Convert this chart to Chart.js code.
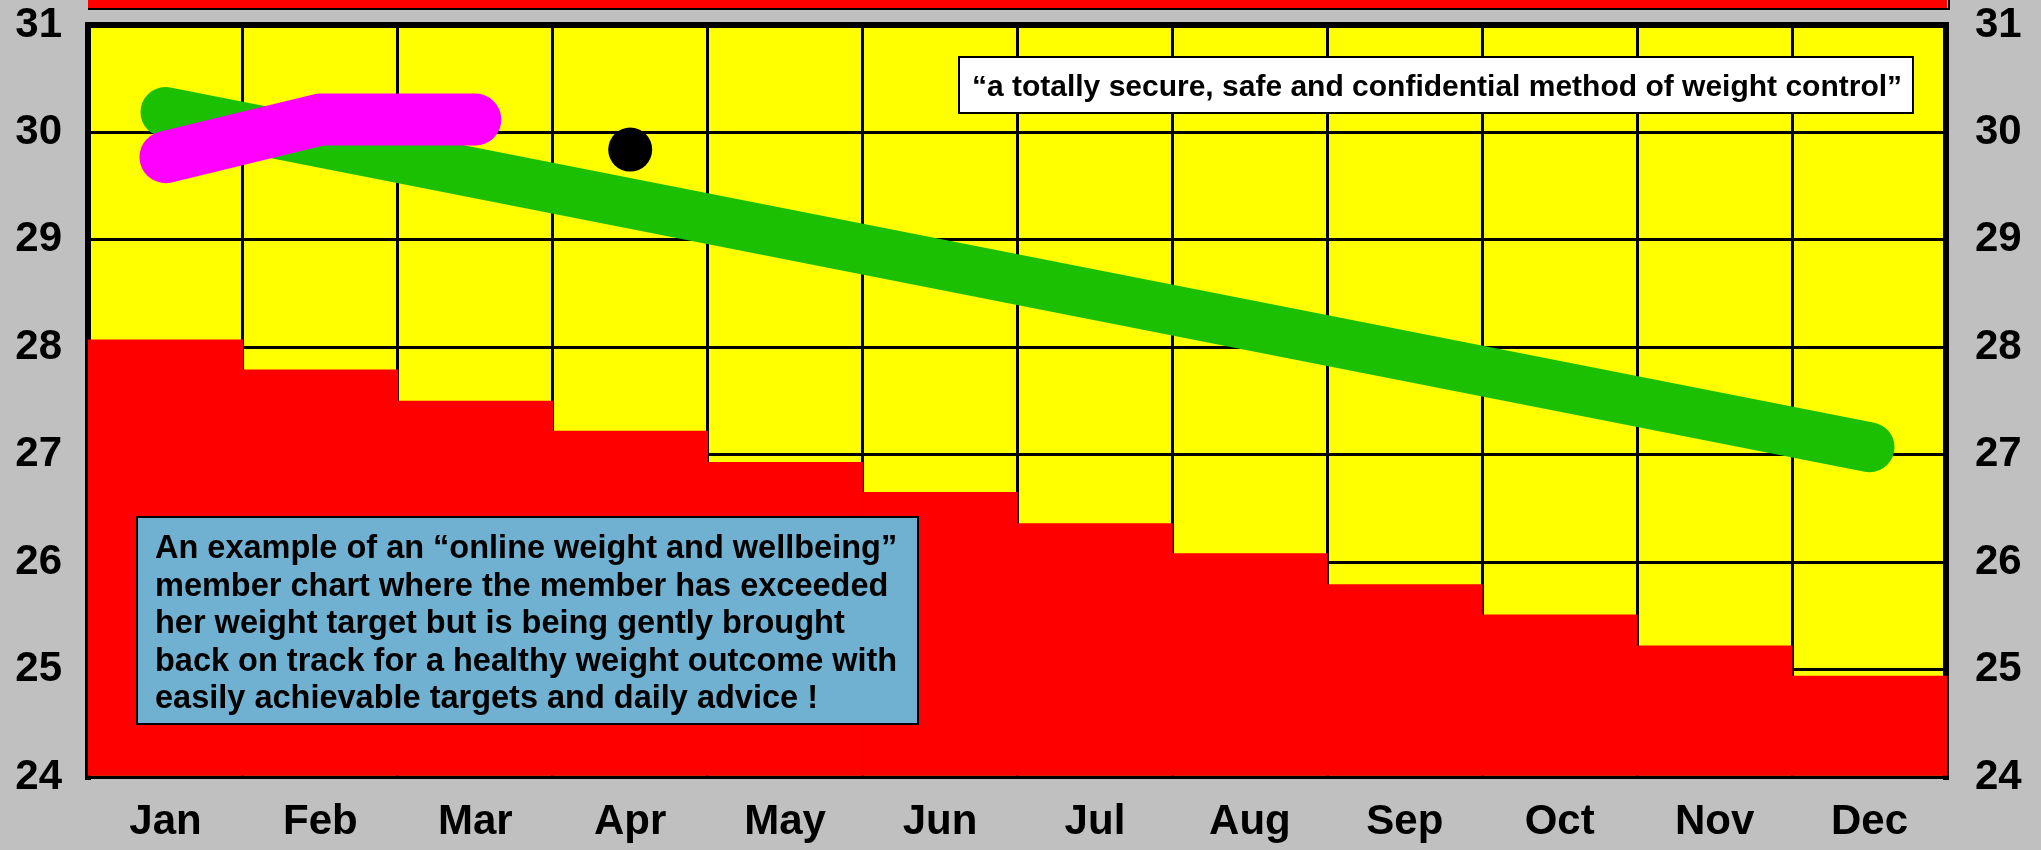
<!DOCTYPE html>
<html>
<head>
<meta charset="utf-8">
<script src="https://cdn.jsdelivr.net/npm/chart.js@4.4.1/dist/chart.umd.min.js"></script>
<style>
    html, body { margin: 0; padding: 0; background: #c0c0c0; }
    #wrap { width: 2041px; height: 850px; }
</style>
</head>
<body>
<div id="wrap"><canvas id="weightChart" width="2041" height="850"></canvas></div>
<script>
// -------- DATA --------
const months = ["Jan", "Feb", "Mar", "Apr", "May", "Jun", "Jul", "Aug", "Sep", "Oct", "Nov", "Dec"];
const yMin = 24;
const yMax = 31;

// red stepped target band (one block per month)
const targetSteps = [28.07, 27.79, 27.50, 27.22, 26.93, 26.65, 26.36, 26.08, 25.79, 25.51, 25.22, 24.94];
// green trend line, only its two end points
const trendLine = [30.19, null, null, null, null, null, null, null, null, null, null, 27.07];
// magenta member weights
const memberWeights = [29.77, 30.12, 30.12, null, null, null, null, null, null, null, null, null];
// black dot, latest weigh-in
const latestWeight = [null, null, null, 29.84, null, null, null, null, null, null, null, null];

const quoteText = "\u201ca totally secure, safe and confidential method of weight control\u201d";
const noteLines = [
    "An example of an \u201conline weight and wellbeing\u201d",
    "member chart where the member has exceeded",
    "her weight target but is being gently brought",
    "back on track for a healthy weight outcome with",
    "easily achievable targets and daily advice !"
];

const FONT = "'Liberation Sans', Arial, sans-serif";

// -------- PLUGIN: background, frame, notes --------
const chartDecor = {
    id: "chartDecor",
    beforeDraw(chart) {
        const { ctx, chartArea: a } = chart;
        ctx.save();
        ctx.fillStyle = "#ffff00";
        ctx.fillRect(a.left, a.top, a.right - a.left, a.bottom - a.top);

        // clipped red banner at the very top
        ctx.fillStyle = "#ff0000";
        ctx.fillRect(a.left, -4, a.right - a.left, 12);
        ctx.strokeStyle = "#000";
        ctx.lineWidth = 2;
        ctx.beginPath();
        ctx.moveTo(a.left, 9);
        ctx.lineTo(a.right + 2, 9);
        ctx.lineTo(a.right + 2, -2);
        ctx.stroke();
        ctx.restore();
    },
    beforeDatasetsDraw(chart) {
        const { ctx, chartArea: a } = chart;
        ctx.save();
        ctx.strokeStyle = "#000";
        ctx.lineCap = "square";
        ctx.lineWidth = 6;
        ctx.beginPath();
        ctx.moveTo(a.left, a.bottom);
        ctx.lineTo(a.left, a.top);
        ctx.lineTo(a.right - 1, a.top);
        ctx.lineTo(a.right - 1, a.bottom);
        ctx.stroke();
        ctx.lineWidth = 3;
        ctx.beginPath();
        ctx.moveTo(a.left, a.bottom);
        ctx.lineTo(a.right, a.bottom);
        ctx.stroke();
        ctx.restore();
    },
    afterDraw(chart) {
        const { ctx } = chart;
        ctx.save();

        // white quote box
        ctx.fillStyle = "#ffffff";
        ctx.fillRect(959, 57, 954, 56);
        ctx.strokeStyle = "#000";
        ctx.lineWidth = 2;
        ctx.strokeRect(959, 57, 954, 56);
        ctx.fillStyle = "#000";
        ctx.font = "bold 30px " + FONT;
        ctx.textAlign = "center";
        ctx.textBaseline = "alphabetic";
        ctx.fillText(quoteText, 1437, 96);

        // blue note box
        ctx.fillStyle = "#70b0d0";
        ctx.fillRect(137, 517, 781, 207);
        ctx.strokeRect(137, 517, 781, 207);
        ctx.fillStyle = "#000";
        ctx.font = "bold 32.5px " + FONT;
        ctx.textAlign = "left";
        noteLines.forEach((line, i) => {
            ctx.fillText(line, 155, 558 + i * 37.5);
        });
        ctx.restore();
    }
};

// -------- CHART --------
const tickFont = { family: FONT, size: 42, weight: "bold" };

// y axes keep a fixed width and no extra room for their end labels
function fixYAxis(width) {
    return s => {
        s.width = width;
        s.paddingTop = 0;
        s.paddingBottom = 0;
    };
}

new Chart(document.getElementById("weightChart"), {
    type: "bar",
    data: {
        labels: months,
        datasets: [
            {
                type: "line",
                data: latestWeight,
                showLine: false,
                pointRadius: 22,
                pointBackgroundColor: "#000",
                pointBorderWidth: 0,
                order: 0
            },
            {
                type: "line",
                data: memberWeights,
                borderColor: "#ff00ff",
                borderWidth: 52,
                borderCapStyle: "round",
                borderJoinStyle: "round",
                pointRadius: 0,
                tension: 0,
                order: 1
            },
            {
                type: "line",
                data: trendLine,
                borderColor: "#1bc000",
                borderWidth: 50,
                borderCapStyle: "round",
                borderJoinStyle: "round",
                pointRadius: 0,
                spanGaps: true,
                tension: 0,
                order: 2
            },
            {
                type: "bar",
                data: targetSteps,
                backgroundColor: "#ff0000",
                borderWidth: 0,
                barPercentage: 1,
                categoryPercentage: 1,
                base: yMin,
                order: 3
            }
        ]
    },
    options: {
        responsive: false,
        animation: false,
        layout: { padding: { top: 25, left: 0, right: 0, bottom: 0 } },
        plugins: {
            legend: { display: false },
            tooltip: { enabled: false }
        },
        scales: {
            x: {
                offset: true,
                grid: { offset: true, color: "#000", lineWidth: 3, drawTicks: false },
                border: { display: false },
                ticks: { font: tickFont, color: "#000", padding: 20 },
                afterFit: s => {
                    s.height = 73;
                    s.paddingLeft = 0;
                    s.paddingRight = 0;
                }
            },
            y: {
                min: yMin,
                max: yMax,
                position: "left",
                grid: { color: "#000", lineWidth: 3, drawTicks: false },
                border: { display: false },
                ticks: { stepSize: 1, font: tickFont, color: "#000", padding: 26 },
                afterFit: fixYAxis(88)
            },
            y2: {
                min: yMin,
                max: yMax,
                position: "right",
                grid: { display: false, drawTicks: false },
                border: { display: false },
                ticks: { stepSize: 1, font: tickFont, color: "#000", padding: 28 },
                afterFit: fixYAxis(94)
            }
        }
    },
    plugins: [chartDecor]
});
</script>
</body>
</html>
